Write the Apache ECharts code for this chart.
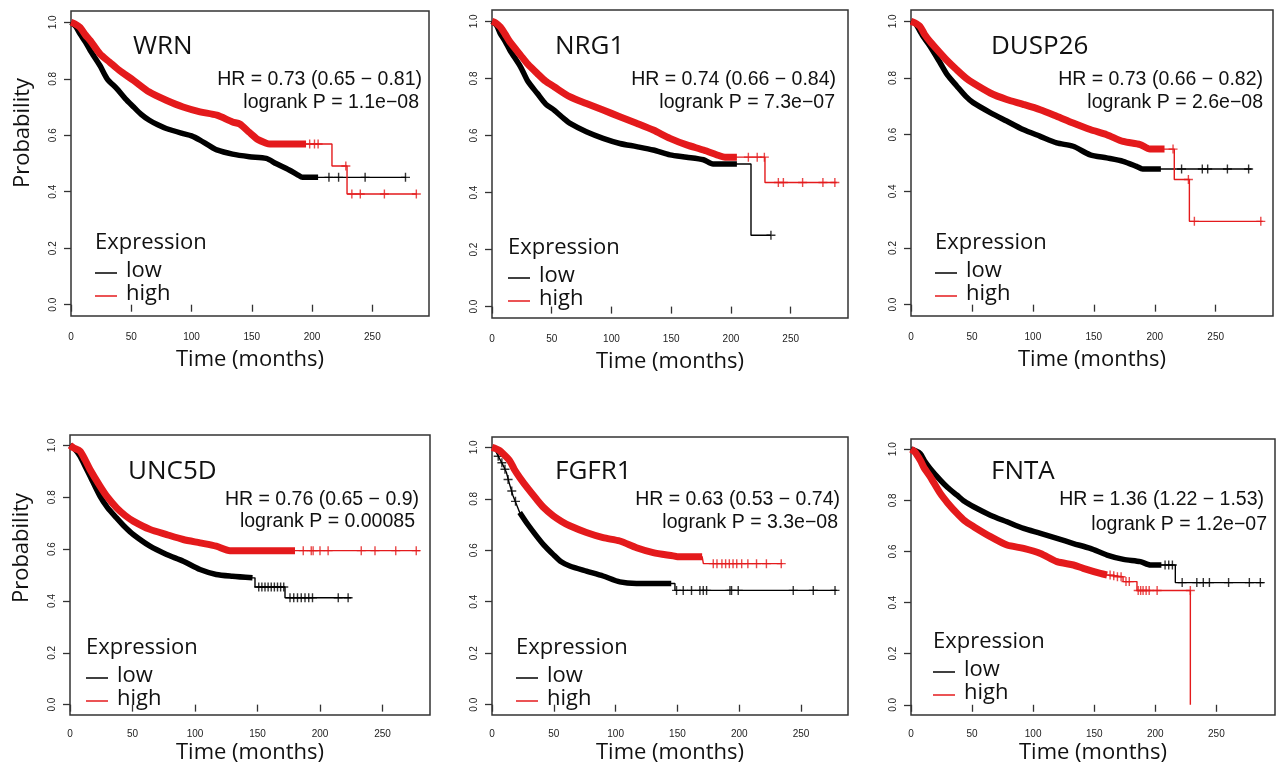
<!DOCTYPE html>
<html>
<head>
<meta charset="utf-8">
<style>
  html, body { margin: 0; background: #fff; }
  #chart { width: 1276px; height: 765px; }
</style>
<script src="https://cdn.jsdelivr.net/npm/echarts@6/dist/echarts.min.js"></script>
</head>
<body>
<div id="chart"></div>
<script>
// ticks
var xTicks = [0, 50, 100, 150, 200, 250];
var yTicks = [0, 0.2, 0.4, 0.6, 0.8, 1.0];

var genes = ['WRN', 'NRG1', 'DUSP26', 'UNC5D', 'FGFR1', 'FNTA'];
var hrLabels = [
  'HR = 0.73 (0.65 \u2212 0.81)',
  'HR = 0.74 (0.66 \u2212 0.84)',
  'HR = 0.73 (0.66 \u2212 0.82)',
  'HR = 0.76 (0.65 \u2212 0.9)',
  'HR = 0.63 (0.53 \u2212 0.74)',
  'HR = 1.36 (1.22 \u2212 1.53)'
];
var pLabels = [
  'logrank P = 1.1e\u221208',
  'logrank P = 7.3e\u221207',
  'logrank P = 2.6e\u221208',
  'logrank P = 0.00085',
  'logrank P = 3.3e\u221208',
  'logrank P = 1.2e\u221207'
];

// survival curves: [months, probability]; vertical drops are given as two points at the same time
// censor marks: [months, probability]
// dense: time span where censor marks merge into a solid band, [low, high]

// WRN
var wrnLow = [[0,1],[4,0.985],[7.5,0.959],[12,0.93],[16,0.9],[24,0.847],[30,0.8],[38,0.765],[45,0.73],[52,0.7],[58,0.675],[65,0.653],[72,0.637],[79,0.624],[93,0.606],[100,0.598],[107,0.583],[114,0.565],[121,0.548],[134,0.533],[148,0.524],[162,0.518],[170,0.5],[181,0.477],[188,0.46],[192,0.451],[205,0.451],[278,0.451]];
var wrnLowCens = [[214,0.451],[222,0.451],[244,0.451],[277.5,0.451]];
var wrnHigh = [[0,1],[3,0.995],[7.5,0.982],[12,0.955],[16,0.935],[24,0.888],[32,0.859],[40,0.83],[52,0.794],[65,0.753],[79,0.724],[93,0.7],[107,0.683],[121,0.671],[134,0.647],[140,0.64],[148,0.61],[155,0.585],[162,0.572],[165,0.569],[195,0.569],[216.5,0.569],[216.5,0.491],[229,0.491],[229,0.392],[287,0.392]];
var wrnHighCens = [[198,0.569],[202,0.569],[205,0.569],[228,0.491],[233,0.392],[240,0.392],[260,0.392],[286.5,0.392]];
var wrnDense = [[0,205],[0,195]];

// NRG1
var nrgLow = [[0,1],[4,0.985],[7,0.957],[11,0.93],[15,0.899],[24,0.84],[30,0.79],[38,0.747],[45,0.71],[52,0.689],[60,0.66],[65,0.643],[79,0.613],[93,0.59],[107,0.572],[121,0.561],[135,0.549],[149,0.532],[163,0.524],[177,0.515],[185,0.5],[205,0.5],[216.8,0.5],[216.8,0.25],[233.5,0.25]];
var nrgLowCens = [[233.5,0.25]];
var nrgHigh = [[0,1],[3,0.995],[7,0.98],[11,0.955],[15,0.928],[24,0.881],[30,0.85],[38,0.817],[45,0.79],[52,0.771],[65,0.736],[79,0.712],[93,0.689],[107,0.666],[121,0.643],[135,0.619],[149,0.59],[163,0.567],[177,0.549],[191,0.528],[195,0.524],[205,0.524],[228.5,0.524],[228.5,0.435],[288.5,0.435]];
var nrgHighCens = [[214.6,0.524],[222,0.524],[228,0.524],[239.7,0.435],[243.9,0.435],[260,0.435],[277,0.435],[287,0.435]];
var nrgDense = [[0,205],[0,205]];

// DUSP26
var dusLow = [[0,1],[4,0.99],[7.4,0.965],[11,0.94],[15.6,0.912],[24,0.853],[30,0.81],[37.5,0.772],[45,0.735],[51,0.713],[65,0.678],[78.5,0.648],[92,0.618],[106,0.594],[119.5,0.571],[133,0.559],[147,0.529],[160.6,0.518],[174,0.506],[185,0.488],[190,0.479],[205,0.479],[279.5,0.479]];
var dusLowCens = [[222,0.479],[239,0.479],[243.4,0.479],[259.6,0.479],[277,0.479]];
var dusHigh = [[0,1],[3,0.995],[7.4,0.982],[11,0.955],[15.6,0.929],[24,0.888],[30,0.86],[37.5,0.829],[45,0.8],[51,0.782],[65,0.747],[78.5,0.724],[92,0.707],[106,0.688],[119.5,0.665],[133,0.641],[147,0.618],[160.6,0.6],[174,0.576],[188,0.565],[196,0.549],[208,0.549],[216,0.549],[216,0.442],[228.4,0.442],[228.4,0.294],[288.5,0.294]];
var dusHighCens = [[215,0.549],[227.6,0.442],[232.5,0.294],[287,0.294]];
var dusDense = [[0,205],[0,208]];

// UNC5D
var uncLow = [[0,1],[4,0.985],[8,0.959],[12,0.92],[16,0.882],[24,0.804],[30,0.76],[37.3,0.72],[44,0.685],[50.6,0.656],[64,0.611],[77.3,0.579],[90.6,0.553],[104,0.521],[117,0.502],[130,0.495],[146,0.489],[148,0.489],[148,0.454],[172,0.454],[172,0.412],[225,0.412]];
var uncLowCens = [[151,0.454],[153.5,0.454],[156,0.454],[158.5,0.454],[161,0.454],[163.5,0.454],[166,0.454],[168.5,0.454],[171,0.454],[176,0.412],[179,0.412],[182,0.412],[185,0.412],[188,0.412],[191,0.412],[194,0.412],[214.6,0.412],[222.5,0.412]];
var uncHigh = [[0,1],[3,0.99],[8,0.978],[12,0.945],[16,0.907],[24,0.843],[30,0.8],[37.3,0.759],[44,0.73],[50.6,0.708],[64,0.676],[77.3,0.656],[90.6,0.637],[104,0.624],[117,0.611],[128,0.594],[180,0.594],[280,0.594]];
var uncHighCens = [[186.6,0.594],[193,0.594],[194.5,0.594],[200,0.594],[206.5,0.594],[233,0.594],[244,0.594],[260.6,0.594],[277,0.594]];
var uncDense = [[0,146],[0,180]];

// FGFR1
var fgfLow = [[0,1],[3,0.985],[6.2,0.955],[9,0.93],[11.6,0.903],[14,0.86],[17,0.812],[22.4,0.747],[29,0.7],[35.9,0.656],[42,0.62],[49.4,0.584],[56,0.555],[62.9,0.539],[76.4,0.519],[89.9,0.5],[103.4,0.477],[116.9,0.471],[145,0.471],[148,0.471],[148,0.444],[279,0.444]];
var fgfLowCens = [[5,0.965],[8,0.94],[10.5,0.915],[13,0.875],[16,0.83],[19,0.79],[149.3,0.444],[154.7,0.444],[161.4,0.444],[168.2,0.444],[170.9,0.444],[173.6,0.444],[192.5,0.444],[193.8,0.444],[199.2,0.444],[243.7,0.444],[259.9,0.444],[277.5,0.444]];
var fgfHigh = [[0,1],[3,0.995],[6.2,0.987],[10,0.97],[14.3,0.948],[18,0.915],[22.4,0.883],[29,0.84],[35.9,0.799],[42,0.765],[49.4,0.734],[56,0.713],[62.9,0.695],[76.4,0.669],[89.9,0.649],[103.4,0.636],[116.9,0.61],[130.4,0.591],[146.6,0.578],[150,0.575],[170,0.575],[171,0.575],[171,0.548],[235,0.548]];
var fgfHighCens = [[179,0.548],[182,0.548],[186,0.548],[189,0.548],[192,0.548],[195,0.548],[198,0.548],[202,0.548],[207,0.548],[214,0.548],[222,0.548],[234,0.548]];
var fgfDense = [[22,145],[0,170]];

// FNTA
var fntLow = [[0,1],[3,0.995],[7.6,0.983],[11,0.955],[15.8,0.924],[24,0.879],[30,0.85],[37.7,0.82],[44,0.795],[51.3,0.775],[65,0.742],[78.6,0.716],[92.2,0.69],[106,0.671],[119.5,0.651],[133,0.631],[146.8,0.612],[160.5,0.586],[174,0.569],[187.8,0.56],[196,0.547],[205,0.547],[216.4,0.547],[216.4,0.478],[288.8,0.478]];
var fntLowCens = [[208,0.547],[211,0.547],[214,0.547],[222,0.478],[234,0.478],[239.3,0.478],[244.3,0.478],[260,0.478],[277,0.478],[286,0.478]];
var fntHigh = [[0,1],[3,0.99],[7.6,0.957],[11,0.925],[15.8,0.892],[24,0.827],[30,0.79],[37.7,0.749],[44,0.72],[51.3,0.697],[65,0.658],[78.6,0.625],[92.2,0.612],[106,0.592],[119.5,0.56],[133,0.547],[141,0.534],[155,0.514],[160.5,0.508],[173.6,0.501],[173.6,0.482],[185,0.482],[185,0.447],[228.7,0.447],[228.7,0]];
var fntHighCens = [[163,0.508],[166,0.505],[169,0.501],[172,0.501],[176,0.482],[178.7,0.482],[186,0.447],[188,0.447],[190,0.447],[192.5,0.447],[195,0.447],[201.5,0.447],[228.7,0.447]];
var fntDense = [[0,205],[0,160.5]];

var curves = [
  [wrnLow, wrnLowCens, wrnHigh, wrnHighCens, wrnDense],
  [nrgLow, nrgLowCens, nrgHigh, nrgHighCens, nrgDense],
  [dusLow, dusLowCens, dusHigh, dusHighCens, dusDense],
  [uncLow, uncLowCens, uncHigh, uncHighCens, uncDense],
  [fgfLow, fgfLowCens, fgfHigh, fgfHighCens, fgfDense],
  [fntLow, fntLowCens, fntHigh, fntHighCens, fntDense]
];

// panel layout (pixels): grid box, x-axis end, offsets of the texts inside each box
var layout = [
  {box: [71, 11, 358, 305], xMax: 297, gene: [62, 36], hr: [7, 69, 10, 92], leg: [24, 231], row: 0},
  {box: [492, 10, 356, 308], xMax: 298, gene: [63, 37], hr: [12, 70, 13, 93], leg: [16, 237], row: 0},
  {box: [911, 10, 362, 306], xMax: 297, gene: [80, 37], hr: [10, 70, 10, 93], leg: [24, 232], row: 0},
  {box: [70, 435, 360, 280], xMax: 288, gene: [58, 37], hr: [11, 65, 15, 87], leg: [16, 212], row: 1},
  {box: [492, 437, 356, 278], xMax: 288, gene: [63, 35], hr: [8, 63, 10, 86], leg: [24, 210], row: 1},
  {box: [911, 439, 364, 276], xMax: 298, gene: [80, 33], hr: [11, 61, 8, 86], leg: [22, 202], row: 1}
];

var RED = '#e41a1c';
var BLACK = '#000000';
var TXT = '#111111';
var PLUS = 'path://M-0.7,-4.5H0.7V4.5H-0.7ZM-4.5,-0.7H4.5V0.7H-4.5Z';

function between(points, span) {
  return points.filter(function (p) { return p[0] >= span[0] && p[0] <= span[1]; });
}

var grids = [], xAxes = [], yAxes = [], series = [], texts = [];

layout.forEach(function (L, i) {
  var b = L.box;
  grids.push({
    left: b[0], top: b[1], width: b[2], height: b[3],
    show: true, borderColor: '#333', borderWidth: 1.5, backgroundColor: 'transparent'
  });
  xAxes.push({
    gridIndex: i, type: 'value', min: 0, max: L.xMax, interval: 50,
    axisLine: {show: false},
    axisTick: {show: true, length: 7, customValues: xTicks, lineStyle: {color: '#333', width: 1.3}},
    axisLabel: {customValues: xTicks, margin: L.row ? 14 : 16, fontSize: 10,
                fontFamily: 'Liberation Sans', color: '#222'},
    splitLine: {show: false},
    name: 'Time (months)', nameLocation: 'middle', nameGap: L.row ? 27 : 33,
    nameTextStyle: {fontSize: 22, fontFamily: 'Open Sans', color: TXT}
  });
  yAxes.push({
    gridIndex: i, type: 'value', min: -0.04, max: 1.04,
    axisLine: {show: false},
    axisTick: {show: true, length: 7, customValues: yTicks, lineStyle: {color: '#333', width: 1.3}},
    axisLabel: {customValues: yTicks, rotate: 90, margin: 13, fontSize: 10,
                fontFamily: 'Liberation Sans', color: '#222',
                formatter: function (v) { return v.toFixed(1); }},
    splitLine: {show: false}
  });

  var c = curves[i];
  [[c[0], c[1], BLACK, 5.5, c[4][0]], [c[2], c[3], RED, 7, c[4][1]]].forEach(function (s) {
    series.push({
      type: 'line', xAxisIndex: i, yAxisIndex: i, data: between(s[0], s[4]),
      showSymbol: false, silent: true, smooth: 0.25,
      lineStyle: {color: s[2], width: s[3], cap: 'butt', join: 'round'}
    });
    series.push({
      type: 'line', xAxisIndex: i, yAxisIndex: i, data: s[0],
      showSymbol: false, silent: true,
      lineStyle: {color: s[2], width: 1.4}
    });
    series.push({
      type: 'scatter', xAxisIndex: i, yAxisIndex: i, data: s[1],
      symbol: PLUS, symbolSize: 9, silent: true,
      itemStyle: {color: s[2]}
    });
  });

  var right = b[0] + b[2];
  texts.push({type: 'text', x: b[0] + L.gene[0], y: b[1] + L.gene[1],
    style: {text: genes[i], fontSize: 26, fontFamily: 'Open Sans', fill: TXT, align: 'left', verticalAlign: 'middle'}});
  texts.push({type: 'text', x: right - L.hr[0], y: b[1] + L.hr[1],
    style: {text: hrLabels[i], fontSize: 19.5, fontFamily: 'Liberation Sans', fill: TXT, align: 'right', verticalAlign: 'middle'}});
  texts.push({type: 'text', x: right - L.hr[2], y: b[1] + L.hr[3],
    style: {text: pLabels[i], fontSize: 19.5, fontFamily: 'Liberation Sans', fill: TXT, align: 'right', verticalAlign: 'middle'}});

  var lx = b[0] + L.leg[0], ly = b[1] + L.leg[1] + 1;
  texts.push({type: 'text', x: lx, y: ly,
    style: {text: 'Expression', fontSize: 22, fontFamily: 'Open Sans', fill: TXT, align: 'left', verticalAlign: 'middle'}});
  [['low', BLACK, 30], ['high', RED, 53]].forEach(function (e) {
    texts.push({type: 'line', shape: {x1: lx, y1: ly + e[2], x2: lx + 22, y2: ly + e[2]},
      style: {stroke: e[1], lineWidth: 1.5}});
    texts.push({type: 'text', x: lx + 31, y: ly + e[2] - 2,
      style: {text: e[0], fontSize: 22, fontFamily: 'Open Sans', fill: TXT, align: 'left', verticalAlign: 'middle'}});
  });
});

texts.push({type: 'text', x: 23, y: 133, rotation: Math.PI / 2,
  style: {text: 'Probability', fontSize: 22, fontFamily: 'Open Sans', fill: TXT, align: 'center', verticalAlign: 'middle'}});
texts.push({type: 'text', x: 22, y: 548, rotation: Math.PI / 2,
  style: {text: 'Probability', fontSize: 22, fontFamily: 'Open Sans', fill: TXT, align: 'center', verticalAlign: 'middle'}});

var chart = echarts.init(document.getElementById('chart'));
chart.setOption({
  animation: false,
  backgroundColor: '#ffffff',
  grid: grids,
  xAxis: xAxes,
  yAxis: yAxes,
  series: series,
  graphic: {elements: texts}
});
</script>
</body>
</html>
